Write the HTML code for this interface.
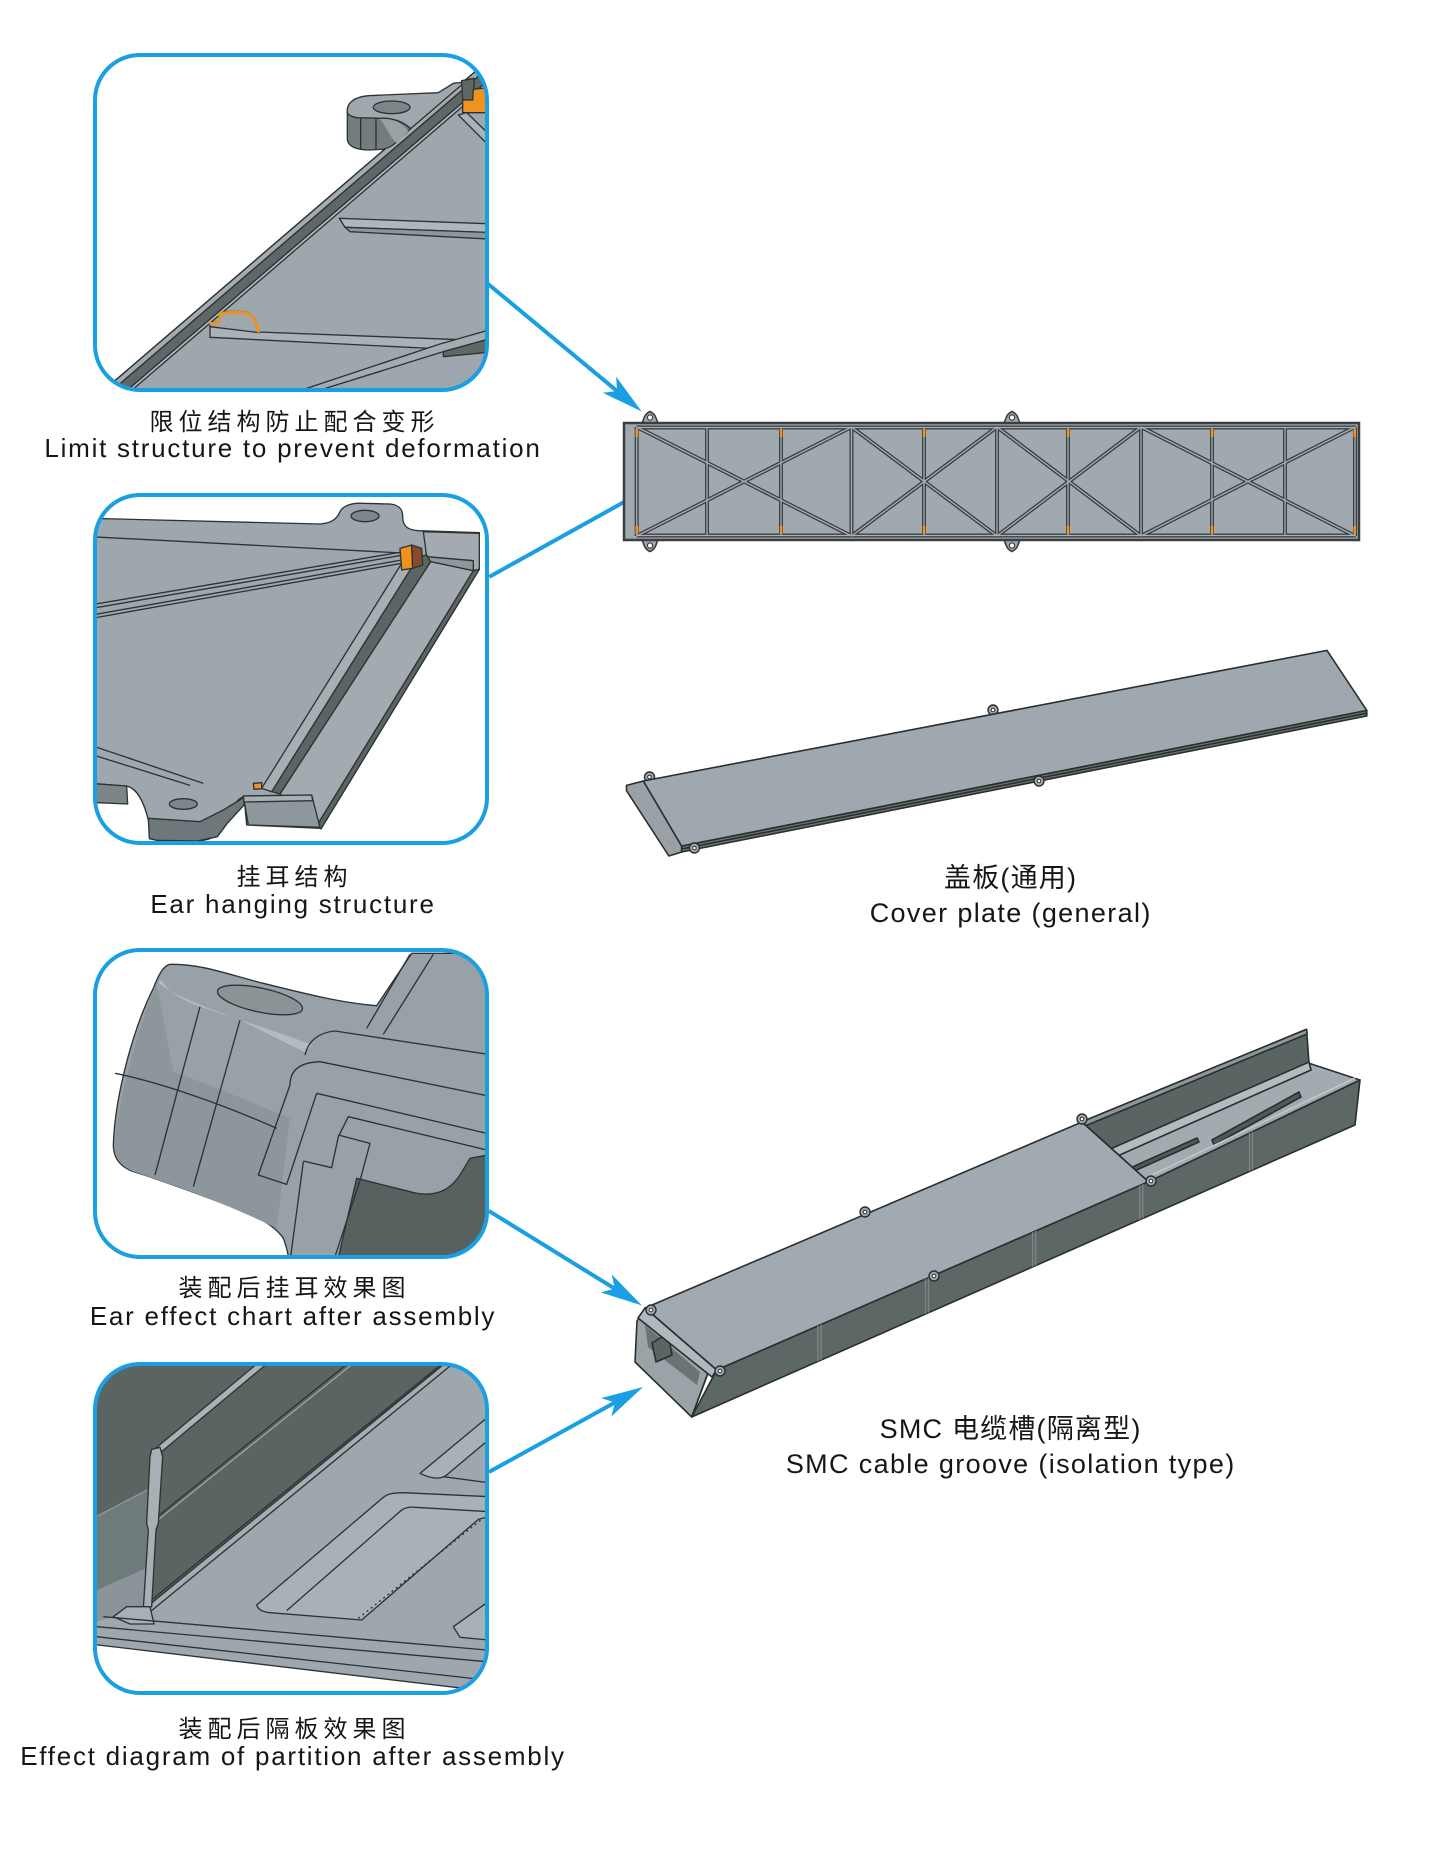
<!DOCTYPE html>
<html><head><meta charset="utf-8">
<style>
html,body{margin:0;padding:0;background:#fff;}
svg{display:block;}
text{font-family:"Liberation Sans","Noto Sans CJK SC",sans-serif;fill:#161616;}
.cn{font-size:24px;letter-spacing:5px;}
.en{font-size:26px;letter-spacing:1.75px;}
.rcn{font-size:27px;letter-spacing:1.2px;}
.ren{font-size:27px;letter-spacing:1.35px;}
</style></head><body>
<svg width="1440" height="1849" viewBox="0 0 1440 1849" xmlns="http://www.w3.org/2000/svg">
<rect x="0" y="0" width="1440" height="1849" fill="#fff"/>

<!-- ============ BOX 1 ============ -->
<g transform="translate(90,50) scale(0.333333)">
<clipPath id="c1"><rect x="15" y="15" width="1176" height="1005" rx="135"/></clipPath>
<g clip-path="url(#c1)" stroke="#2d3234" stroke-width="4" stroke-linejoin="round">
<rect x="0" y="0" width="1220" height="1050" fill="#fff" stroke="none"/>
<polygon points="0,1056 1210,18 1220,18 1220,1050 0,1050" fill="#9ea7ae"/>
<polygon points="0,1056.5 1210,18.3 1210,40.3 0,1078.5" fill="#a4acb2"/>
<polygon points="0,1078.5 1210,40.3 1210,78.3 0,1116.5" fill="#5e6866"/>
<polygon points="0,1116.5 1210,78.3 1210,90.3 0,1128.5" fill="#b3babe"/>
<polygon points="1105,195 1130,188 1215,270 1215,305" fill="#aab2b8"/>
<polygon points="748,505 1215,522 1215,548 765,532" fill="#b0b7bc"/>
<polygon points="765,532 1215,548 1215,568 780,545" fill="#8d969b"/>
<polygon points="360,828 505,846 1215,873 1215,905 360,862" fill="#aab2b8"/>
<path d="M360,830 L360,818 L385,816 L390,790 C400,783 440,783 465,786 C490,790 502,815 508,848 Z" fill="#a0a8ae"/>
<path d="M358,821 L386,819 L391,792 C405,786 445,786 465,789 C488,793 500,815 506,848" fill="none" stroke="#f0921f" stroke-width="9"/>
<polygon points="560,1045 1050,882 1215,835 1215,862 1060,905 610,1045" fill="#a4acb2"/>
<polygon points="1060,905 1215,862 1215,905 1060,920" fill="#5e6866"/>
<path d="M772,188 L772,270 C776,290 800,300 840,300 L878,298 C898,294 915,282 925,270 L962,236 C945,220 920,208 890,205 L800,203 C785,200 775,195 772,188 Z" fill="#737d7e"/>
<path d="M870,206 C888,232 905,268 920,280 L955,243 C940,226 922,212 898,206 Z" fill="#9aa2a6" stroke="none"/>
<path d="M772,188 C768,158 795,140 835,137 L1045,128 L1090,100 L1125,96 L962,236 C945,220 920,208 890,205 L800,203 C785,200 775,195 772,188 Z" fill="#a0a8ae"/>
<ellipse cx="905" cy="172" rx="55" ry="19" fill="#7d8689"/>
<line x1="812" y1="205" x2="812" y2="297"/>
<line x1="858" y1="205" x2="858" y2="300"/>
<polygon points="1115,92 1152,85 1152,150 1118,150" fill="#5e6866"/>
<polygon points="1118,150 1148,150 1150,118 1200,112 1200,188 1118,188" fill="#f0921f"/>
</g>
</g>
<rect x="95" y="55" width="392" height="335" rx="45" fill="none" stroke="#1a9fe3" stroke-width="4"/>

<!-- ============ BOX 2 ============ -->
<g transform="translate(90,490) scale(0.333333)">
<clipPath id="c2"><rect x="15" y="15" width="1176" height="1044" rx="135"/></clipPath>
<g clip-path="url(#c2)" stroke="#2d3234" stroke-width="4" stroke-linejoin="round">
<rect x="0" y="0" width="1220" height="1080" fill="#fff" stroke="none"/>
<path d="M0,85 L690,102 C720,100 740,90 750,65 C760,45 790,38 820,40 L900,42 C930,45 940,60 938,85 C940,110 955,120 985,122 L1168,128 L1168,238 L693,1015 L470,1005 L462,920 C440,925 420,960 400,1000 C385,1040 360,1052 320,1052 L200,1050 C180,1045 178,1000 175,990 C160,930 140,895 110,888 L0,880 Z" fill="#9ea7ae"/>
<polygon points="175,985 330,995 400,960 462,922 462,945 412,1000 382,1040 322,1053 200,1051 178,1046" fill="#6e787a"/>
<polygon points="0,880 110,888 113,942 0,937" fill="#7c8588"/>
<ellipse cx="280" cy="942" rx="42" ry="16" fill="#7d8688"/>
<ellipse cx="825" cy="78" rx="42" ry="17" fill="#7d8688"/>
<line x1="0" y1="140" x2="995" y2="192"/>
<line x1="0" y1="345" x2="935" y2="186"/>
<line x1="0" y1="356" x2="935" y2="196"/>
<line x1="0" y1="376" x2="935" y2="210"/>
<line x1="0" y1="386" x2="935" y2="220"/>
<line x1="0" y1="765" x2="340" y2="880"/>
<line x1="0" y1="792" x2="300" y2="886"/>
<polygon points="1000,125 1168,130 1168,238 1150,242 1150,212 1010,200" fill="#a3abb1"/>
<polygon points="1010,200 1150,212 1150,242 1022,220" fill="#8e979c"/>
<polygon points="1022,215 1150,242 680,1008 570,912" fill="#a3abb1"/>
<polygon points="1150,242 1168,238 693,1017 680,1008" fill="#5b6563"/>
<polygon points="985,200 1010,195 1022,215 570,912 545,905" fill="#5b6563"/>
<polygon points="940,212 985,200 545,905 515,895" fill="#a7afb5"/>
<polygon points="460,918 665,915 690,1012 475,1005" fill="#8e979c"/>
<polygon points="460,918 665,915 668,932 462,936" fill="#a8b0b5"/>
<polygon points="930,175 965,165 968,235 935,240" fill="#f0921f"/>
<polygon points="965,165 995,175 998,225 968,235" fill="#8a4a2e"/>
<polygon points="490,880 515,878 515,896 492,898" fill="#f0921f"/>
</g>
</g>
<rect x="95" y="495" width="392" height="348" rx="45" fill="none" stroke="#1a9fe3" stroke-width="4"/>

<!-- ============ BOX 3 ============ -->
<g transform="translate(90,945) scale(0.333333)">
<clipPath id="c3"><rect x="15" y="15" width="1176" height="921" rx="135"/></clipPath>
<g clip-path="url(#c3)" stroke="#2d3234" stroke-width="4" stroke-linejoin="round" fill="none">
<rect x="0" y="0" width="1220" height="960" fill="#fff" stroke="none"/>
<path d="M240,58 C330,55 420,90 520,115 C640,145 760,175 860,182 L965,25 L1220,25 L1220,960 L600,960 C595,930 590,905 580,880 C560,850 520,820 440,790 C330,750 200,700 130,680 C90,665 70,640 70,600 C75,450 130,250 190,130 C205,90 220,62 240,58 Z" fill="#98a1a7"/>
<path d="M200,118 C150,230 92,430 72,600 C75,640 95,665 130,680 C250,720 420,780 560,850 L600,520 C480,470 360,420 250,380 Z" fill="#8d969b" stroke="none"/>
<path d="M205,112 C235,140 300,170 440,220 L645,322 L665,300 C620,280 500,240 330,185 C275,165 235,140 215,105 Z" fill="#b4bbbf" stroke="none"/>
<path d="M800,700 L980,745 C1040,755 1080,735 1110,690 L1140,640 L1220,625 L1220,960 L740,960 Z" fill="#576260"/>
<ellipse cx="510" cy="165" rx="130" ry="36" transform="rotate(12 510 165)" fill="#8a9396"/>
<path d="M75,385 C200,410 380,470 560,550"/>
<path d="M330,185 L195,690"/>
<path d="M450,225 L310,725"/>
<path d="M830,250 L960,28"/>
<path d="M880,268 L1030,28"/>
<path d="M645,330 C655,285 690,262 735,258 L1220,332"/>
<path d="M600,420 C600,375 630,352 690,350 L1220,458"/>
<path d="M600,420 L505,690 L590,718 L680,445 L1220,572"/>
<path d="M640,648 L725,668 L745,575 L775,515 L1220,622"/>
<path d="M745,570 L840,595 L812,700"/>
<path d="M600,950 L640,650"/>
<path d="M730,950 L812,700"/>
</g>
</g>
<rect x="95" y="950" width="392" height="307" rx="45" fill="none" stroke="#1a9fe3" stroke-width="4"/>

<!-- ============ BOX 4 ============ -->
<g transform="translate(90,1360) scale(0.333333)">
<clipPath id="c4"><rect x="15" y="12" width="1176" height="987" rx="135"/></clipPath>
<g clip-path="url(#c4)" stroke="#2d3234" stroke-width="4" stroke-linejoin="round">
<rect x="0" y="0" width="1220" height="1050" fill="#9ea7ae" stroke="none"/>
<polygon points="0,0 1075,0 170,748 150,745 0,480" fill="#5a6562" stroke="none"/>
<polygon points="0,480 200,375 178,620 0,700" fill="#6f7a7a" stroke="none"/>
<polygon points="0,700 178,620 165,745 0,790" fill="#8b9599" stroke="none"/>
<line x1="0" y1="480" x2="200" y2="375" stroke="#8f989c"/>
<line x1="185" y1="495" x2="790" y2="10" stroke="#98a1a6"/>
<line x1="190" y1="480" x2="780" y2="5"/>
<polygon points="200,262 505,8 535,8 215,275" fill="#aab2b7"/>
<polygon points="165,745 1065,10 1090,10 182,754" fill="#a5adb3"/>
<line x1="150" y1="748" x2="1060" y2="8"/>
<polygon points="185,268 210,262 218,290 205,490 198,510 185,740 160,745 175,510 170,490 180,290" fill="#a8b0b5"/>
<polygon points="70,770 110,740 180,740 192,792 120,792" fill="#a8b0b5"/>
<path d="M500,735 L880,412 C895,400 915,398 940,398 L1195,410 L1195,470 L1165,478 L815,780 L540,758 C515,756 505,748 500,735 Z" fill="#a9b1b6"/>
<path d="M590,752 L935,450 C948,442 960,440 975,442 L1195,455" fill="none"/>
<path d="M805,775 L1175,478" fill="none" stroke-dasharray="6,10"/>
<path d="M990,340 L1195,170 L1195,240 L1070,345 C1050,360 1020,355 990,340 Z" fill="#a9b1b6"/>
<line x1="1060" y1="350" x2="1195" y2="368"/>
<path d="M1090,800 L1195,725 L1195,840 L1110,832 Z" fill="#a9b1b6"/>
<line x1="40" y1="770" x2="1190" y2="870"/>
<line x1="20" y1="800" x2="1190" y2="905"/>
<line x1="20" y1="830" x2="1190" y2="960"/>
<polygon points="0,852 1180,992 1220,1000 1220,1060 0,1060" fill="#fff"/>
</g>
</g>
<rect x="95" y="1364" width="392" height="329" rx="45" fill="none" stroke="#1a9fe3" stroke-width="4"/>

<!-- ============ ARROWS ============ -->
<g fill="#1a9fe3">
<g transform="translate(641.7,411.5) rotate(39.7)"><rect x="-201" y="-2" width="170" height="4"/><path d="M0,0 L-42,-10.5 L-32,0 L-42,10.5 Z"/></g>
<g transform="translate(665,479.3) rotate(-29.03)"><rect x="-201" y="-2" width="170" height="4"/><path d="M0,0 L-42,-10.5 L-32,0 L-42,10.5 Z"/></g>
<g transform="translate(642,1305.5) rotate(31.7)"><rect x="-180" y="-2" width="149" height="4"/><path d="M0,0 L-42,-10.5 L-32,0 L-42,10.5 Z"/></g>
<g transform="translate(643,1387) rotate(-28.9)"><rect x="-176" y="-2" width="145" height="4"/><path d="M0,0 L-42,-10.5 L-32,0 L-42,10.5 Z"/></g>
</g>

<!-- ============ PLAN VIEW ============ -->
<defs>
<g id="ear"><path d="M-9.5,0 C-6,0 -8,-9 0,-12.5 C8,-9 6,0 9.5,0 Z" fill="#a0a8b0" stroke="#3a3e41" stroke-width="1.6"/><circle cx="0" cy="-6.5" r="2.6" fill="#fff" stroke="#3a3e41" stroke-width="1.2"/></g>
<g id="lobe"><circle cx="0" cy="0" r="5" fill="#a2aab1" stroke="#2a2e2f" stroke-width="1.4"/><circle cx="0" cy="0" r="1.8" fill="#fff" stroke="#2a2e2f" stroke-width="1"/></g>
</defs>
<use href="#ear" x="650" y="424"/>
<use href="#ear" x="1012" y="424"/>
<use href="#ear" transform="translate(650,539) scale(1,-1)"/>
<use href="#ear" transform="translate(1012,539) scale(1,-1)"/>
<rect x="624" y="423" width="735" height="117" fill="#a0a8b0" stroke="#3a3e41" stroke-width="2.5"/>
<g stroke="#3b4043" stroke-width="4" fill="none">
<path d="M636.7,427.5 H1356 M636.7,535.5 H1356"/>
<path d="M636.7,427 V536 M707,427 V536 M781,427 V536 M851.5,427 V536 M924,427 V536 M997,427 V536 M1068,427 V536 M1141,427 V536 M1212,427 V536 M1285,427 V536 M1355,427 V536"/>
<path d="M636.7,427 L851.5,536 M636.7,536 L851.5,427 M851.5,427 L997,536 M851.5,536 L997,427 M997,427 L1141,536 M997,536 L1141,427 M1141,427 L1355,536 M1141,536 L1355,427"/>
</g>
<g stroke="#a9b0b7" stroke-width="1.3" fill="none">
<path d="M636.7,427.5 H1356 M636.7,535.5 H1356"/>
<path d="M636.7,427 V536 M707,427 V536 M781,427 V536 M851.5,427 V536 M924,427 V536 M997,427 V536 M1068,427 V536 M1141,427 V536 M1212,427 V536 M1285,427 V536 M1355,427 V536"/>
<path d="M636.7,427 L851.5,536 M636.7,536 L851.5,427 M851.5,427 L997,536 M851.5,536 L997,427 M997,427 L1141,536 M997,536 L1141,427 M1141,427 L1355,536 M1141,536 L1355,427"/>
</g>
<g fill="#f0921f">
<rect x="635.5" y="429" width="2.6" height="8"/><rect x="635.5" y="526" width="2.6" height="8"/>
<rect x="779.8" y="429" width="2.6" height="8"/><rect x="779.8" y="526" width="2.6" height="8"/>
<rect x="922.8" y="429" width="2.6" height="8"/><rect x="922.8" y="526" width="2.6" height="8"/>
<rect x="1066.8" y="429" width="2.6" height="8"/><rect x="1066.8" y="526" width="2.6" height="8"/>
<rect x="1210.8" y="429" width="2.6" height="8"/><rect x="1210.8" y="526" width="2.6" height="8"/>
<rect x="1353.5" y="429" width="2.6" height="8"/><rect x="1353.5" y="526" width="2.6" height="8"/>
</g>

<!-- ============ COVER PLATE PERSPECTIVE ============ -->
<g stroke="#2a2e2f" stroke-width="1.6" stroke-linejoin="round">
<use href="#lobe" x="649.5" y="777"/>
<use href="#lobe" x="993" y="710"/>
<polygon points="681.6,846 1366.8,710.4 1366.8,716 681.6,852" fill="#6b7473"/>
<polygon points="626.5,785.4 643.4,781 681.6,846 681.6,852 668.9,856 626.5,790.7" fill="#99a1a7"/>
<polygon points="643.4,781 1327,650.4 1366.8,710.4 681.6,846" fill="#a0a8af"/>
<line x1="681.6" y1="849" x2="1366.8" y2="713.2"/>
<use href="#lobe" x="1039" y="781"/>
<use href="#lobe" x="694.4" y="848"/>
</g>

<!-- ============ SMC GROOVE ============ -->
<g stroke="#2a2e2f" stroke-width="1.6" stroke-linejoin="round">
<polygon points="716.7,1370 1148.5,1181.7 1360,1080 1355,1125 691.7,1417" fill="#5d6765"/>
<polygon points="1082,1121.7 1306.6,1029.3 1309,1063.3 1110,1151.7" fill="#5a6462"/>
<polygon points="1082,1121.7 1306.6,1029.3 1307,1034 1085,1126" fill="#8d969b"/>
<polygon points="1110,1151.7 1309,1063.3 1360,1080 1148.5,1181.7" fill="#a3abb1"/>
<polygon points="1108,1150 1309,1062 1311,1070 1113,1158" fill="#b5bcc0"/>
<polygon points="1130,1168 1197,1138 1199,1142 1132,1172" fill="#4f5957"/>
<polygon points="1212,1140 1299,1092 1301,1097 1214,1145" fill="#4f5957"/>
<line x1="1150" y1="1176" x2="1355" y2="1078" stroke="#c0c6ca"/>
<polygon points="645,1308 1082,1122 1148.5,1181.7 716.7,1370" fill="#a2aab1"/>
<polygon points="637,1321 645,1308 716.7,1370 708,1373 691.7,1417 635,1362" fill="#9aa3a8"/>
<polygon points="645,1325 700,1372 697,1385 648,1347" fill="#6a7472" stroke="none"/>
<polygon points="652,1343 668,1333 672,1355 656,1362" fill="#5a6462"/>
<polygon points="645,1308 716.7,1370 712,1377 638,1318" fill="#b2b9be"/>
<line x1="708" y1="1373" x2="691.7" y2="1417"/>
<line x1="1082" y1="1122" x2="1148.5" y2="1181.7"/>
<g stroke="#7a8483" stroke-width="1.4">
<line x1="818" y1="1325.8" x2="818" y2="1361.4"/><line x1="821" y1="1324.5" x2="821" y2="1360.1"/>
<line x1="925.5" y1="1278.9" x2="925.5" y2="1314"/><line x1="928.5" y1="1277.6" x2="928.5" y2="1312.7"/>
<line x1="1032.7" y1="1232.2" x2="1032.7" y2="1266.9"/><line x1="1035.7" y1="1230.9" x2="1035.7" y2="1265.6"/>
<line x1="1139.8" y1="1185.4" x2="1139.8" y2="1219.7"/><line x1="1142.8" y1="1184.1" x2="1142.8" y2="1218.4"/>
<line x1="1249.5" y1="1133" x2="1249.5" y2="1171.4"/><line x1="1252.5" y1="1131.6" x2="1252.5" y2="1170.1"/>
</g>
<use href="#lobe" x="651" y="1310"/>
<use href="#lobe" x="865" y="1212"/>
<use href="#lobe" x="1082" y="1119"/>
<use href="#lobe" x="720" y="1371"/>
<use href="#lobe" x="934" y="1276"/>
<use href="#lobe" x="1151" y="1181"/>
</g>

<!-- ============ LABELS ============ -->
<g text-anchor="middle">
<text class="cn" x="294.5" y="430">限位结构防止配合变形</text>
<text class="en" x="293" y="457">Limit structure to prevent deformation</text>
<text class="cn" x="294.5" y="885">挂耳结构</text>
<text class="en" x="293" y="913">Ear hanging structure</text>
<text class="cn" x="294.5" y="1296">装配后挂耳效果图</text>
<text class="en" x="293" y="1325">Ear effect chart after assembly</text>
<text class="cn" x="294.5" y="1737">装配后隔板效果图</text>
<text class="en" x="293" y="1765">Effect diagram of partition after assembly</text>
<text class="rcn" x="1010.6" y="887">盖板(通用)</text>
<text class="ren" x="1010.7" y="922">Cover plate (general)</text>
<text class="rcn" x="1010.6" y="1438">SMC 电缆槽(隔离型)</text>
<text class="ren" x="1010.7" y="1473">SMC cable groove (isolation type)</text>
</g>
</svg>
</body></html>
